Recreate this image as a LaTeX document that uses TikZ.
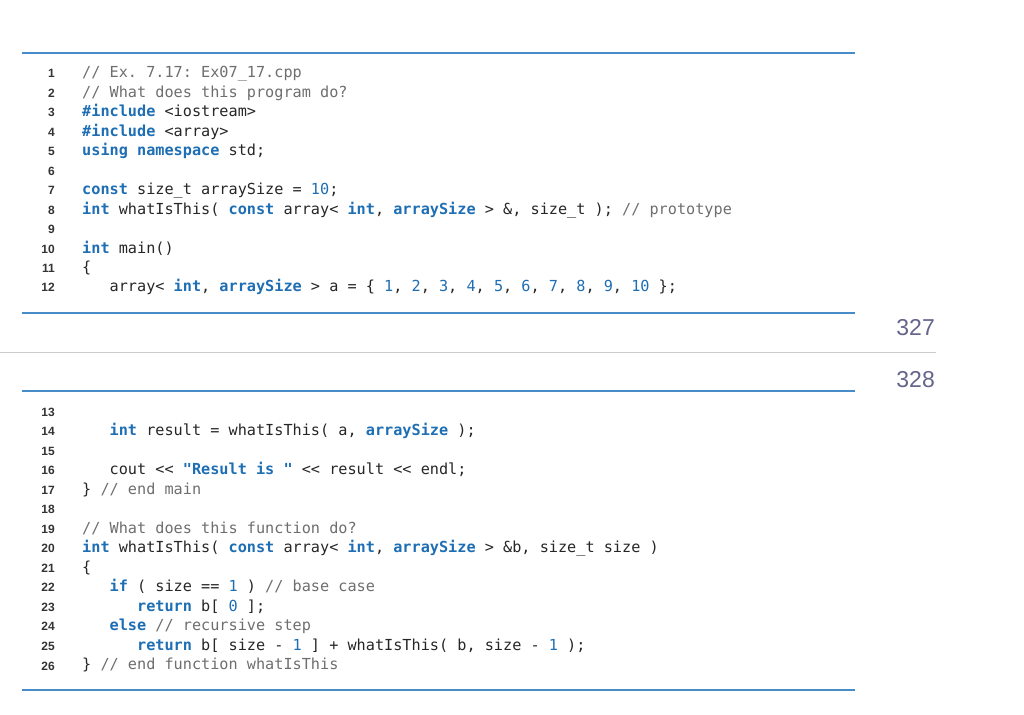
\documentclass[tikz,border=0pt]{standalone}
\usepackage{fontspec}
\setmonofont{DejaVu Sans Mono}
\setsansfont{Liberation Sans}
\definecolor{kwc}{RGB}{30,110,180}
\definecolor{cmc}{RGB}{110,110,110}
\definecolor{rulec}{RGB}{70,140,200}
\definecolor{pgc}{RGB}{100,100,140}
\newcommand{\kw}[1]{{\color{kwc}\bfseries #1}}
\newcommand{\bl}[1]{{\color{kwc}#1}}
\newcommand{\cm}[1]{{\color{cmc}#1}}
\newcommand{\ind}[1]{\phantom{#1}}
\tikzset{code/.style={anchor=base west,inner sep=0pt,font=\ttfamily\fontsize{15.2}{16}\selectfont,text=black!85},
 num/.style={anchor=base east,inner sep=0pt,font=\sffamily\bfseries\fontsize{12}{13}\selectfont,text=black!80},
 pg/.style={anchor=base east,inner sep=0pt,font=\sffamily\fontsize{23}{24}\selectfont,text=pgc},
 brule/.style={draw=rulec,line width=1.3pt}}
\begin{document}
\begin{tikzpicture}[x=1pt,y=-1pt]
\useasboundingbox (0,0) rectangle (1024,714);
\coordinate (r1a) at (22,53); \coordinate (r1b) at (855,53);
\coordinate (r2a) at (22,313); \coordinate (r2b) at (855,313);
\coordinate (r3a) at (22,391); \coordinate (r3b) at (855,391);
\coordinate (r4a) at (22,690); \coordinate (r4b) at (855,690);
\coordinate (ga) at (0,352); \coordinate (gb) at (936,352);
\draw[brule] (r1a)--(r1b); \draw[brule] (r2a)--(r2b);
\draw[brule] (r3a)--(r3b); \draw[brule] (r4a)--(r4b);
\draw[black!20,line width=0.8pt] (ga)--(gb);
\node[pg] (p327) at (935,335) {327};
\node[pg] (p328) at (935,387) {328};
% line numbers
\foreach \i in {1,...,12}{\node[num] (n\i) at (55,{73+(\i-1)*19.45+5}) {\i};}
\foreach \i in {13,...,26}{\node[num] (n\i) at (55,{411+(\i-13)*19.54+5}) {\i};}
\def\X{82}
\node[code] (l1) at (\X,78) {\cm{// Ex. 7.17: Ex07\_17.cpp}};
\node[code] (l2) at (\X,97.45) {\cm{// What does this program do?}};
\node[code] (l3) at (\X,116.9) {\kw{\#include} <iostream>};
\node[code] (l4) at (\X,136.35) {\kw{\#include} <array>};
\node[code] (l5) at (\X,155.8) {\kw{using namespace} std;};
\node[code] (l7) at (\X,194.7) {\kw{const} size\_t arraySize = \bl{10};};
\node[code] (l8) at (\X,214.15) {\kw{int} whatIsThis( \kw{const} array< \kw{int}, \kw{arraySize} > \&, size\_t ); \cm{// prototype}};
\node[code] (l10) at (\X,253.05) {\kw{int} main()};
\node[code] (l11) at (\X,272.5) {\{};
\node[code] (l12) at (\X,291.95) {\ind{xxx}array< \kw{int}, \kw{arraySize} > a = \{ \bl{1}, \bl{2}, \bl{3}, \bl{4}, \bl{5}, \bl{6}, \bl{7}, \bl{8}, \bl{9}, \bl{10} \};};
\node[code] (l14) at (\X,435.5) {\ind{xxx}\kw{int} result = whatIsThis( a, \kw{arraySize} );};
\node[code] (l16) at (\X,474.6) {\ind{xxx}cout << \kw{"Result is "} << result << endl;};
\node[code] (l17) at (\X,494.1) {\} \cm{// end main}};
\node[code] (l19) at (\X,533.2) {\cm{// What does this function do?}};
\node[code] (l20) at (\X,552.7) {\kw{int} whatIsThis( \kw{const} array< \kw{int}, \kw{arraySize} > \&b, size\_t size )};
\node[code] (l21) at (\X,572.3) {\{};
\node[code] (l22) at (\X,591.8) {\ind{xxx}\kw{if} ( size == \bl{1} ) \cm{// base case}};
\node[code] (l23) at (\X,611.3) {\ind{xxxxxx}\kw{return} b[ \bl{0} ];};
\node[code] (l24) at (\X,630.9) {\ind{xxx}\kw{else} \cm{// recursive step}};
\node[code] (l25) at (\X,650.4) {\ind{xxxxxx}\kw{return} b[ size - \bl{1} ] + whatIsThis( b, size - \bl{1} );};
\node[code] (l26) at (\X,669.9) {\} \cm{// end function whatIsThis}};
\end{tikzpicture}
\end{document}
